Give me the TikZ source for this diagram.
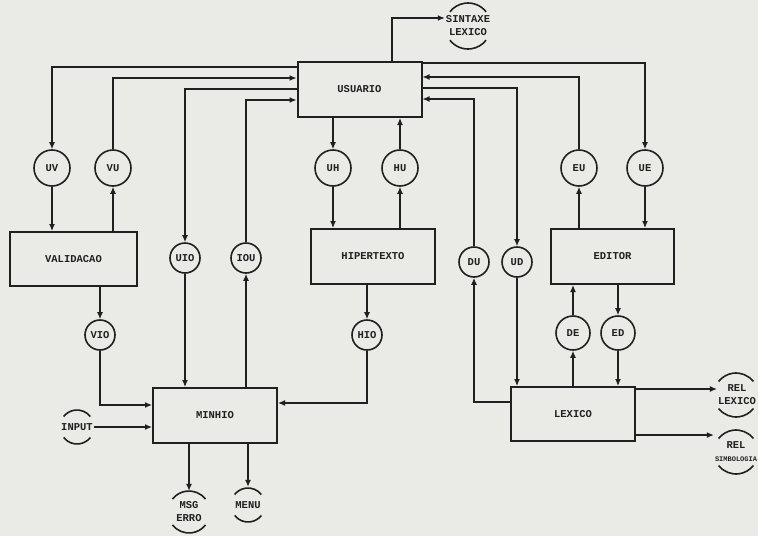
\documentclass[tikz,border=0pt]{standalone}
\usepackage{fontspec}
\newfontfamily\rotulo{Liberation Mono}
\usetikzlibrary{arrows.meta}
\definecolor{papel}{RGB}{234,234,231}
\definecolor{tinta}{RGB}{32,32,32}

\begin{document}
\begin{tikzpicture}[x=1pt,y=-1pt,
    every node/.style={font=\rotulo\bfseries\fontsize{10.5}{13}\selectfont,text=tinta},
    modulo/.style={draw=tinta,line width=2pt,minimum width=124pt,minimum height=55pt,inner sep=0pt},
    fluxo/.style={circle,draw=tinta,line width=1.6pt,minimum size=36pt,inner sep=0pt},
    fluxop/.style={fluxo,minimum size=30pt},
    externo/.style={inner sep=1pt,align=center},
    arco/.style={draw=tinta,line width=1.6pt},
    seta/.style={draw=tinta,line width=1.2pt,-{Latex[length=7pt,width=6pt]}}]
    \path[fill=papel,use as bounding box] (0,0) rectangle (758,536);

    \node[modulo] (usuario) at (359.5,89.5) {USUARIO};
    \node[modulo,minimum width=127pt,minimum height=54pt] (validacao) at (73.5,259) {VALIDACAO};
    \node[modulo] (hipertexto) at (373,256.5) {HIPERTEXTO};
    \node[modulo,minimum width=123pt] (editor) at (612.5,256.5) {EDITOR};
    \node[modulo] (minhio) at (215,415.5) {MINHIO};
    \node[modulo,minimum height=54pt] (lexico) at (573,414) {LEXICO};

    \node[fluxo] (uv) at (52,168) {UV};
    \node[fluxo] (vu) at (113,168) {VU};
    \node[fluxo] (uh) at (333,168) {UH};
    \node[fluxo] (hu) at (400,168) {HU};
    \node[fluxo] (eu) at (579,168) {EU};
    \node[fluxo] (ue) at (645,168) {UE};
    \node[fluxop] (uio) at (185,258) {UIO};
    \node[fluxop] (iou) at (246,258) {IOU};
    \node[fluxop] (du) at (474,262) {DU};
    \node[fluxop] (ud) at (517,262) {UD};
    \node[fluxop] (vio) at (100,335) {VIO};
    \node[fluxop] (hio) at (367,335) {HIO};
    \node[fluxo,minimum size=34pt] (de) at (573,333) {DE};
    \node[fluxo,minimum size=34pt] (ed) at (618,333) {ED};

    \node[externo,minimum height=46pt] (sintaxe) at (468,26) {SINTAXE\\LEXICO};
    \node[externo] (input) at (77,427) {INPUT};
    \node[externo,minimum height=42pt] (msg) at (189,512) {MSG\\ERRO};
    \node[externo,minimum height=36pt] (menu) at (248,505) {MENU};
    \node[externo] (rellex) at (737,395) {REL\\LEXICO};
    \node[externo] (relsim) at (736,452) {REL\\{\fontsize{7}{8}\selectfont SIMBOLOGIA}};
    \foreach \cx/\cy/\rad in {468/26/23,77/427/17,189/512/21,248/505/17,736/395/22,736/452/22}{
      \draw[arco] (\cx,\cy) ++(38:\rad pt) arc[start angle=38,end angle=142,radius=\rad pt];
      \draw[arco] (\cx,\cy) ++(218:\rad pt) arc[start angle=218,end angle=322,radius=\rad pt];
    }

    \draw[seta] (usuario.west |- 0,67) -| (uv);
    \draw[seta] (vu) |- (usuario.west |- 0,78);
    \draw[seta] (usuario.west |- 0,89) -| (uio);
    \draw[seta] (iou) |- (usuario.west |- 0,100);
    \draw[seta] (usuario.east |- 0,63) -| (ue);
    \draw[seta] (eu) |- (usuario.east |- 0,77);
    \draw[seta] (usuario.east |- 0,88) -| (ud);
    \draw[seta] (du) |- (usuario.east |- 0,99);
    \draw[seta] (usuario.north -| 392,0) |- (sintaxe.west |- 0,18);

    \draw[seta] (usuario.south -| uh) -- (uh);
    \draw[seta] (uh) -- (hipertexto.north -| uh);
    \draw[seta] (hipertexto.north -| hu) -- (hu);
    \draw[seta] (hu) -- (usuario.south -| hu);
    \draw[seta] (uv) -- (validacao.north -| uv);
    \draw[seta] (validacao.north -| vu) -- (vu);
    \draw[seta] (ue) -- (editor.north -| ue);
    \draw[seta] (editor.north -| eu) -- (eu);

    \draw[seta] (uio) -- (minhio.north -| uio);
    \draw[seta] (minhio.north -| iou) -- (iou);
    \draw[seta] (validacao.south -| vio) -- (vio);
    \draw[seta] (vio) |- (minhio.west |- 0,405);
    \draw[seta] (input) -- (minhio.west |- input);
    \draw[seta] (hipertexto.south -| hio) -- (hio);
    \draw[seta] (hio) |- (minhio.east |- 0,403);
    \draw[seta] (minhio.south -| msg) -- (msg);
    \draw[seta] (minhio.south -| menu) -- (menu);

    \draw[seta] (lexico.west |- 0,402) -| (du);
    \draw[seta] (ud) -- (lexico.north -| ud);
    \draw[seta] (lexico.north -| de) -- (de);
    \draw[seta] (de) -- (editor.south -| de);
    \draw[seta] (editor.south -| ed) -- (ed);
    \draw[seta] (ed) -- (lexico.north -| ed);
    \draw[seta] (lexico.east |- 0,389) -- (rellex.west |- 0,389);
    \draw[seta] (lexico.east |- 0,435) -- (relsim.west |- 0,435);
  \end{tikzpicture}
\end{document}
